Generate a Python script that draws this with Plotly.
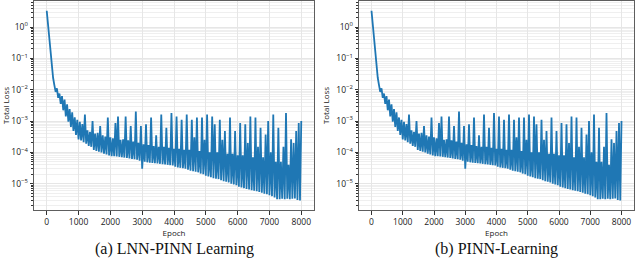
import plotly.graph_objects as go

# ---- data (both panels show the same curve) ----
epochs = list(range(0, 8001, 40))

loss_values = [
    3.3, 1.3, 0.38, 0.13, 0.055, 0.024, 0.014, 0.0085, 0.011, 0.0055,
    0.0075, 0.0035, 0.0062, 0.0022, 0.0048, 0.0014, 0.0034, 0.00095, 0.0024, 0.00065,
    0.0019, 0.00048, 0.0013, 0.00036, 0.0011, 0.00026, 0.00095, 0.00024, 0.0008, 0.00021,
    0.0016, 0.00019, 0.0005, 0.00016, 0.00045, 0.00015, 0.001, 0.00012, 0.0004, 0.00011,
    0.00042, 0.000105, 0.00069, 0.0001, 0.00035, 0.00009, 0.00032, 0.000085, 0.0013, 0.00008,
    0.0003, 0.000076, 0.00028, 0.000075, 0.00087, 0.000074, 0.0014, 0.000072, 0.00025, 0.00007,
    0.00026, 0.000068, 0.0014, 0.000066, 0.00024, 0.000064, 0.00069, 0.000062, 0.00022, 0.00006,
    0.002, 0.000058, 0.0002, 0.000054, 0.00069, 0.00003, 0.00018, 0.00005, 0.00078, 0.000048,
    0.00017, 0.000047, 0.0013, 0.000046, 0.00016, 0.000045, 0.00035, 0.000044, 0.00015, 0.000043,
    0.0016, 0.000042, 0.00015, 0.000041, 0.00061, 0.00004, 0.00014, 0.000039, 0.0018, 0.000038,
    0.00013, 0.000035, 0.0014, 0.000033, 0.00013, 0.000032, 0.0011, 0.000031, 0.00012, 0.00003,
    0.0016, 0.000028, 0.00012, 0.000026, 0.0011, 0.000025, 0.0003, 0.000024, 0.0013, 0.000023,
    0.00011, 0.000021, 0.0013, 0.00002, 0.00025, 0.000018, 0.0016, 0.000017, 0.0001, 0.000016,
    0.0014, 0.000015, 0.00078, 0.0000145, 0.0001, 0.000014, 0.0011, 0.000013, 0.00025, 0.000012,
    0.00048, 0.0000115, 0.00009, 0.000011, 0.0013, 0.00001, 0.00009, 0.0000095, 0.00048, 0.000009,
    0.00008, 0.000008, 0.00087, 0.0000076, 0.00008, 0.0000072, 0.00078, 0.0000068, 0.0002, 0.0000065,
    0.0014, 0.0000062, 0.00007, 0.000006, 0.0013, 0.0000057, 0.00015, 0.0000054, 0.00061, 0.0000051,
    0.00007, 0.0000048, 0.00037, 0.0000046, 0.001, 0.0000043, 0.0001, 0.000004, 0.0016, 0.0000036,
    0.00005, 0.0000032, 0.00061, 0.0000032, 0.00005, 0.0000033, 0.00015, 0.0000032, 0.0018, 0.0000033,
    0.00004, 0.0000032, 0.00026, 0.0000033, 0.0002, 0.0000034, 0.00048, 0.000003, 0.00087, 0.0000029,
    0.001,
]

x_ticks = [0, 1000, 2000, 3000, 4000, 5000, 6000, 7000, 8000]
y_tick_vals = [1, 0.1, 0.01, 0.001, 0.0001, 0.00001]
y_tick_text = ["10<sup>0</sup>", "10<sup>\u22121</sup>", "10<sup>\u22122</sup>",
               "10<sup>\u22123</sup>", "10<sup>\u22124</sup>", "10<sup>\u22125</sup>"]
captions = ["(a) LNN-PINN Learning", "(b) PINN-Learning"]

W, H = 640, 258
panels = [(34, 314), (359, 634)]
top_px, bot_px = 1, 210

minor_vals = [k * 10.0 ** p for p in range(-6, 1) for k in range(2, 10)]

fig = go.Figure()
tick_font = dict(family="Open Sans", size=8.5, color="#222")
title_font = dict(family="Open Sans", size=8, color="#222")

for i, (x0, x1) in enumerate(panels):
    sfx = "" if i == 0 else "2"
    fig.add_trace(go.Scatter(
        x=epochs, y=loss_values, mode="lines",
        line=dict(color="#1f77b4", width=1.8),
        xaxis="x" + sfx, yaxis="y" + sfx, showlegend=False,
    ))
    fig.update_layout(**{
        "xaxis" + sfx: dict(
            domain=[x0 / W, x1 / W], anchor="y" + sfx,
            range=[-400, 8400], tickvals=x_ticks,
            ticks="outside", ticklen=3.5, tickcolor="#333", tickwidth=0.8,
            showgrid=True, gridcolor="#e6e6e6", gridwidth=0.8,
            showline=True, mirror=True, linecolor="#5e5e5e", linewidth=1,
            zeroline=False, tickfont=tick_font,
            title=dict(text="Epoch", font=title_font, standoff=4),
        ),
        "yaxis" + sfx: dict(
            domain=[1 - bot_px / H, 1 - top_px / H], anchor="x" + sfx,
            type="log", range=[-5.84, 0.83],
            tickvals=y_tick_vals, ticktext=y_tick_text,
            ticks="outside", ticklen=3.5, tickcolor="#333", tickwidth=0.8,
            showgrid=True, gridcolor="#e6e6e6", gridwidth=0.8,
            minor=dict(tickvals=minor_vals, ticks="outside", ticklen=2,
                       tickcolor="#333", tickwidth=0.6,
                       showgrid=True, gridcolor="#efefef", gridwidth=0.6),
            showline=True, mirror=True, linecolor="#5e5e5e", linewidth=1,
            zeroline=False, tickfont=tick_font,
            title=dict(text="Total Loss", font=title_font, standoff=5),
        ),
    })
    fig.add_annotation(
        text=captions[i], x=(x0 + x1) / 2 / W, y=1 - 249 / H,
        xref="paper", yref="paper", showarrow=False,
        xanchor="center", yanchor="middle",
        font=dict(family="Liberation Serif", size=16, color="#111"),
    )

fig.update_layout(
    width=W, height=H, autosize=False,
    margin=dict(l=0, r=0, t=0, b=0),
    paper_bgcolor="white", plot_bgcolor="white",
)

fig.write_html("out.html", config={"displayModeBar": False},
               post_script="document.body.style.margin='0';")
